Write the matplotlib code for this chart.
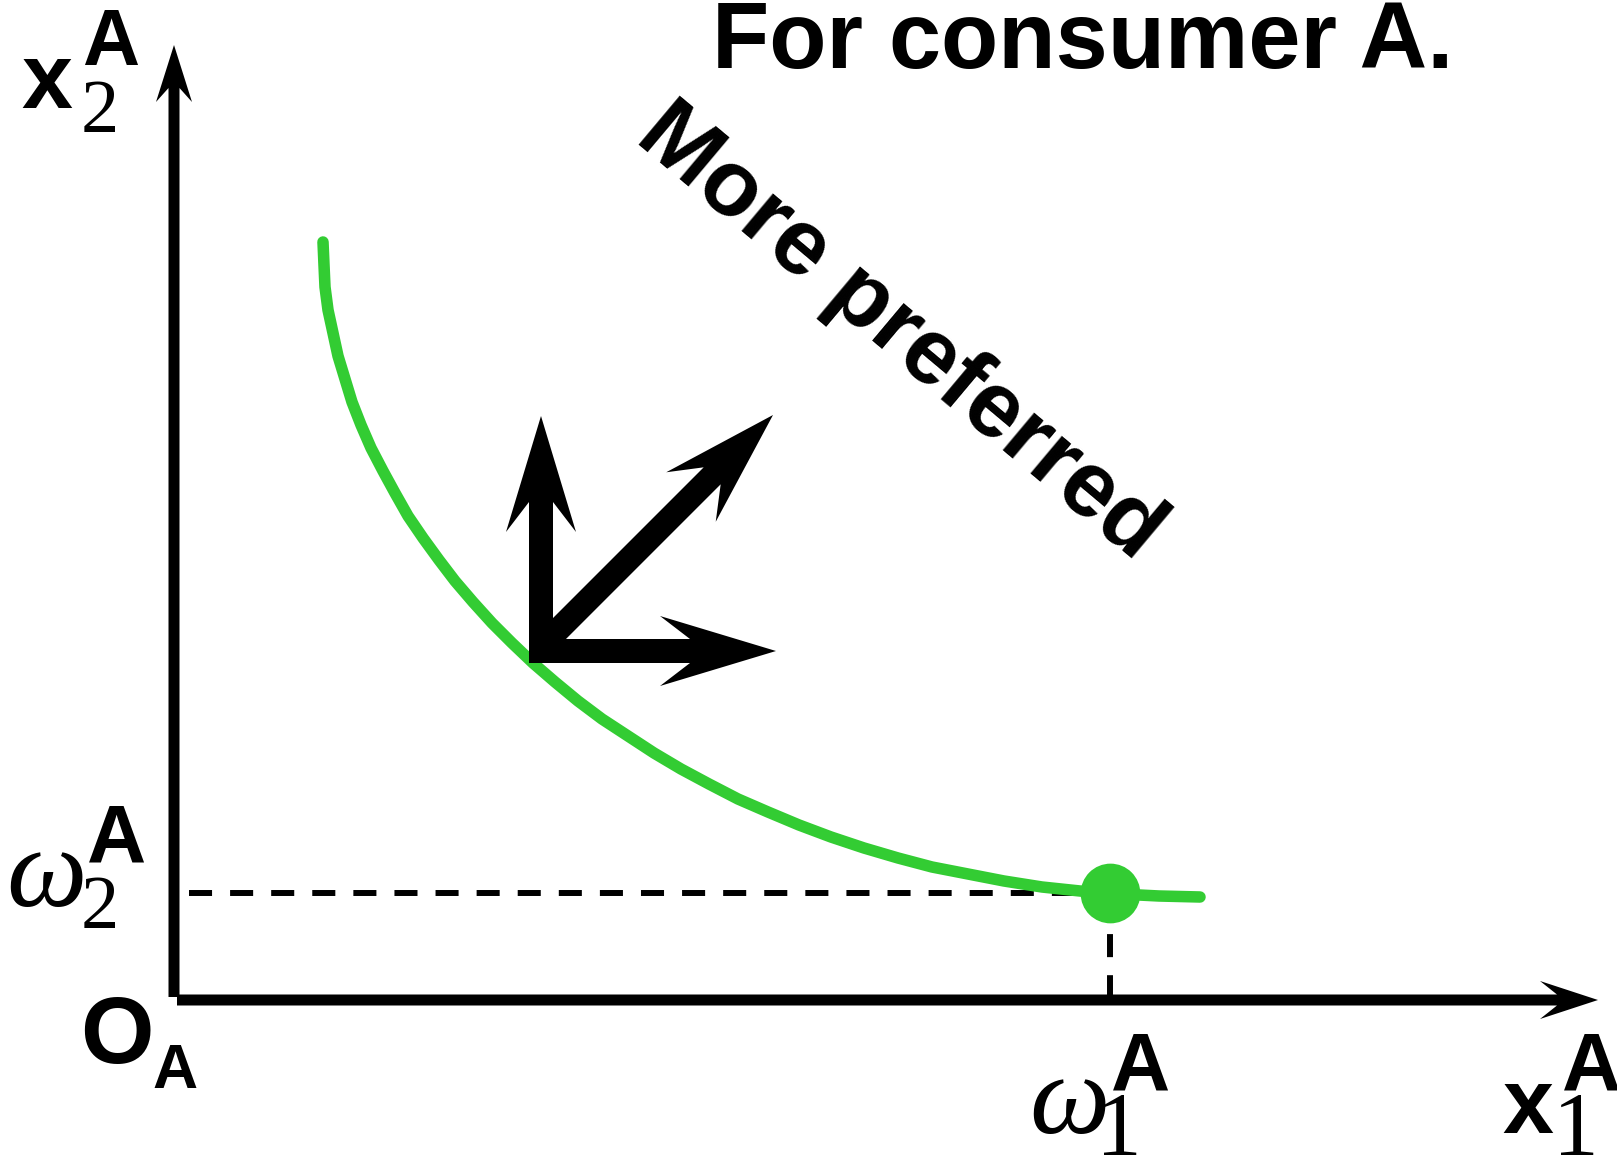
import numpy as np
import matplotlib
matplotlib.use("Agg")
import matplotlib.pyplot as plt

# indifference curve of consumer A (goods x1, x2)
curve_x1 = [1.48, 1.49, 1.50, 1.53, 1.58, 1.63, 1.70, 1.77, 1.86, 1.96, 2.08,
            2.20, 2.33, 2.48, 2.64, 2.80, 2.98, 3.17, 3.37, 3.58, 3.80, 4.03,
            4.27, 4.53, 4.79, 5.06, 5.34, 5.63, 5.93, 6.24, 6.56, 6.89, 7.23,
            7.57, 7.93, 8.29, 8.67, 9.05, 9.44, 9.84, 10.25]
curve_x2 = [7.58, 7.35, 7.13, 6.90, 6.67, 6.44, 6.21, 5.98, 5.75, 5.52, 5.29,
            5.07, 4.84, 4.62, 4.40, 4.19, 3.98, 3.77, 3.57, 3.37, 3.18, 2.99,
            2.81, 2.64, 2.47, 2.31, 2.16, 2.01, 1.88, 1.75, 1.63, 1.52, 1.42,
            1.33, 1.26, 1.19, 1.13, 1.09, 1.06, 1.04, 1.03]

# endowment point
omega1 = 9.35
omega2 = 1.07

GREEN = "#33cc33"
SANS = "Liberation Sans"
SERIF = "Liberation Serif"


def stealth_arrow(ax, start, end, width, head_len, head_hw, join):
    """Black filled arrow with a notched head (all sizes in data units)."""
    s = np.array(start, dtype=float)
    tip = np.array(end, dtype=float)
    d = tip - s
    u = d / np.hypot(*d)
    n = np.array([-u[1], u[0]])
    w = width / 2
    base = tip - u * head_len
    j = tip - u * join
    pts = [s + n * w, j + n * w, base + n * head_hw, tip,
           base - n * head_hw, j - n * w, s - n * w]
    xs, ys = zip(*pts)
    ax.fill(xs, ys, color="black", lw=0, zorder=3)


fig = plt.figure(figsize=(16.17, 11.58), dpi=100)
ax = fig.add_axes([0, 0, 1, 1])
ax.set_xlim(-1.75, 14.42)
ax.set_ylim(-1.58, 10.0)
ax.axis("off")

# axes with arrow heads
stealth_arrow(ax, (-0.01, 0.03), (-0.01, 9.55), 0.11, 0.57, 0.18, 0.43)
stealth_arrow(ax, (0.02, 0.0), (14.23, 0.0), 0.11, 0.58, 0.19, 0.41)

# dashed guides to the endowment
ax.plot([0.14, omega1], [omega2, omega2], color="black", lw=4.3,
        ls=(0, (3.86, 3.02)), zorder=1)
ax.plot([omega1, omega1], [omega2, 0.0], color="black", lw=4.3,
        ls=(0, (3.86, 3.02)), zorder=1)

# indifference curve and endowment
ax.plot(curve_x1, curve_x2, color=GREEN, lw=8.3, solid_capstyle="round",
        solid_joinstyle="round", zorder=2)
ax.plot([omega1], [omega2], "o", color=GREEN, ms=43, mec="none", zorder=4)

# "more preferred" direction arrows
corner = (3.66, 3.53)
stealth_arrow(ax, (3.66, 3.50), (3.66, 5.84), 0.24, 1.16, 0.35, 0.86)
stealth_arrow(ax, (3.54, 3.49), (6.01, 3.49), 0.24, 1.16, 0.35, 0.86)
stealth_arrow(ax, corner, (5.98, 5.85), 0.24, 1.16, 0.35, 0.86)

ax.text(5.37, 9.32, "For consumer A.", family=SANS, weight="bold", fontsize=67.5,
        ha="left", va="baseline")
ax.text(4.58, 8.60, "More preferred", family=SANS, weight="bold", fontsize=67,
        rotation=-40, rotation_mode="anchor", ha="left", va="baseline")

# axis labels
ax.text(-1.28, 8.92, "x", family=SANS, weight="bold", fontsize=66, ha="center", va="baseline")
ax.text(-0.75, 8.68, "2", family=SERIF, fontsize=55, ha="center", va="baseline")
ax.text(-0.64, 9.35, "A", family=SANS, weight="bold", fontsize=57, ha="center", va="baseline")

ax.text(-1.29, 0.94, "\u03c9", family=SERIF, style="italic", fontsize=82, ha="center", va="baseline")
ax.text(-0.75, 0.72, "2", family=SERIF, fontsize=55, ha="center", va="baseline")
ax.text(-0.58, 1.39, "A", family=SANS, weight="bold", fontsize=59, ha="center", va="baseline")

ax.text(-0.58, -0.63, "O", family=SANS, weight="bold", fontsize=68, ha="center", va="baseline")
ax.text(0.0, -0.88, "A", family=SANS, weight="bold", fontsize=45, ha="center", va="baseline")

ax.text(8.94, -1.33, "\u03c9", family=SERIF, style="italic", fontsize=82, ha="center", va="baseline")
ax.text(9.44, -1.55, "1", family=SERIF, fontsize=66, ha="center", va="baseline")
ax.text(9.66, -0.90, "A", family=SANS, weight="bold", fontsize=59, ha="center", va="baseline")

ax.text(13.53, -1.33, "x", family=SANS, weight="bold", fontsize=66, ha="center", va="baseline")
ax.text(14.01, -1.55, "1", family=SERIF, fontsize=66, ha="center", va="baseline")
ax.text(14.17, -0.90, "A", family=SANS, weight="bold", fontsize=59, ha="center", va="baseline")

fig.savefig("out.png", dpi=100)
